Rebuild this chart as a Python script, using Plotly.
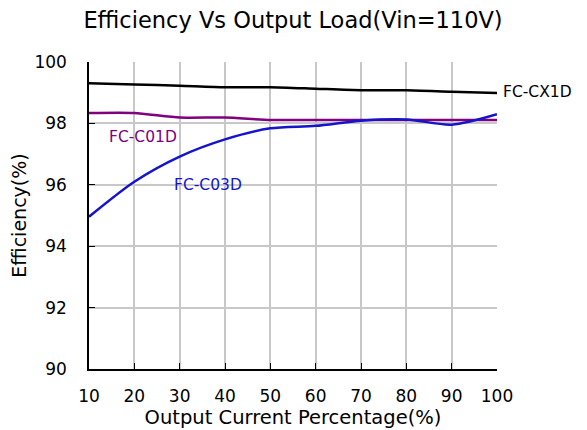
import plotly.graph_objects as go

load = [10, 20, 30, 40, 50, 60, 70, 80, 90, 100]
cx1d = [99.31, 99.27, 99.23, 99.18, 99.18, 99.13, 99.08, 99.08, 99.03, 98.99]
c01d = [98.34, 98.34, 98.19, 98.19, 98.11, 98.11, 98.11, 98.11, 98.11, 98.11]
c03d = [94.96, 96.10, 96.92, 97.48, 97.84, 97.92, 98.09, 98.13, 97.96, 98.30]

font = "DejaVu Sans"
fig = go.Figure()
fig.add_trace(go.Scatter(x=load, y=cx1d, mode="lines", line=dict(color="#000000", width=2.5, shape="spline", smoothing=0.6), name="FC-CX1D"))
fig.add_trace(go.Scatter(x=load, y=c01d, mode="lines", line=dict(color="#800080", width=2.5, shape="spline", smoothing=0.6), name="FC-C01D"))
fig.add_trace(go.Scatter(x=load, y=c03d, mode="lines", line=dict(color="#1414CC", width=2.5, shape="spline", smoothing=0.8), name="FC-C03D"))

fig.add_annotation(x=100, y=98.99, xref="x", yref="y", text="FC-CX1D", showarrow=False, xanchor="left", xshift=4, yshift=1, font=dict(size=15.5, color="#000000", family=font))
fig.add_annotation(x=13.9, y=97.56, xref="x", yref="y", text="FC-C01D", showarrow=False, xanchor="left", font=dict(size=15.5, color="#800080", family=font))
fig.add_annotation(x=28.2, y=95.99, xref="x", yref="y", text="FC-C03D", showarrow=False, xanchor="left", font=dict(size=15.5, color="#1414CC", family=font))

fig.update_layout(
    width=587, height=430,
    margin=dict(l=81, r=98, t=54, b=69, autoexpand=False),
    paper_bgcolor="white", plot_bgcolor="white",
    showlegend=False,
    title=dict(text="Efficiency Vs Output Load(Vin=110V)", x=0.5, xanchor="center", xref="paper", y=0.972, yref="container", yanchor="middle",
               font=dict(size=22.5, color="#000000", family=font)),
    xaxis=dict(range=[10, 100], tickvals=load, ticks="inside", ticklen=6, tickcolor="black",
               showgrid=True, gridcolor="#c8c8c8", gridwidth=1.5, showline=True, linecolor="black", linewidth=1.5,
               mirror=False, tickfont=dict(size=17, color="black", family=font), automargin=False,
               ticklabelstandoff=11,
               title=dict(text="Output Current Percentage(%)", font=dict(size=19.5, color="black", family=font), standoff=3),
               zeroline=False),
    yaxis=dict(range=[90, 100], dtick=2, ticks="inside", ticklen=6, tickcolor="black",
               showgrid=True, gridcolor="#c8c8c8", gridwidth=1.5, showline=True, linecolor="black", linewidth=1.5,
               tickfont=dict(size=17, color="black", family=font), automargin=False,
               ticklabelstandoff=17,
               title=dict(text="Efficiency(%)", font=dict(size=19, color="black", family=font), standoff=8),
               zeroline=False),
)
fig.write_html("out.html")
